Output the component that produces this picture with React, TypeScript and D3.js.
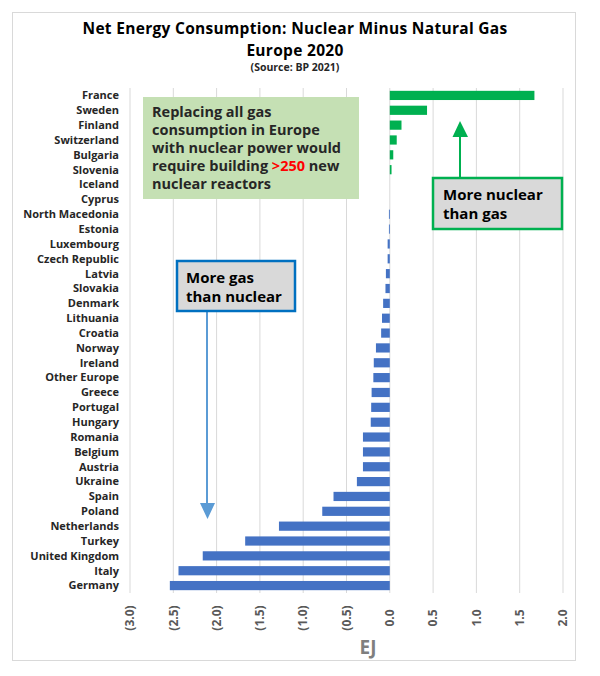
import React from "react";
import * as d3 from "d3";

const countries = [
  "France", "Sweden", "Finland", "Switzerland", "Bulgaria", "Slovenia", "Iceland", "Cyprus",
  "North Macedonia", "Estonia", "Luxembourg", "Czech Republic", "Latvia", "Slovakia", "Denmark",
  "Lithuania", "Croatia", "Norway", "Ireland", "Other Europe", "Greece", "Portugal", "Hungary",
  "Romania", "Belgium", "Austria", "Ukraine", "Spain", "Poland", "Netherlands", "Turkey",
  "United Kingdom", "Italy", "Germany",
];
const values = [
  1.67, 0.43, 0.135, 0.08, 0.04, 0.02, 0.0, 0.0,
  -0.01, -0.01, -0.025, -0.025, -0.045, -0.05, -0.077,
  -0.09, -0.1, -0.16, -0.185, -0.19, -0.21, -0.215, -0.22,
  -0.31, -0.31, -0.31, -0.38, -0.65, -0.78, -1.28, -1.67,
  -2.16, -2.44, -2.54,
];
const tickValues = [-3, -2.5, -2, -1.5, -1, -0.5, 0, 0.5, 1, 1.5, 2];
const titleLines = ["Net Energy Consumption: Nuclear Minus Natural Gas", "Europe 2020"];
const sourceText = "(Source: BP 2021)";
const noteLines = [
  "Replacing all gas",
  "consumption in Europe",
  "with nuclear power would",
  "require building ",
  "nuclear reactors",
];
const axisTitle = "EJ";

const FONT = "'Open Sans', Lato, sans-serif";
const GREEN = "#00B050";
const BLUE = "#4472C4";

function fmt(v: number) {
  const s = Math.abs(v).toFixed(1);
  return v < 0 ? `(${s})` : s;
}

export default function App() {
  if (typeof document !== "undefined") document.body.style.margin = "0";
  const x = d3.scaleLinear().domain([-3, 2]).range([130, 563]);
  const y = d3.scaleBand<string>().domain(countries).range([88, 593]).paddingInner(0.38).paddingOuter(0.19);
  const bw = y.bandwidth();

  return (
    <svg width={600} height={676} style={{ display: "block", fontFamily: FONT }}>
      <rect x={0} y={0} width={600} height={676} fill="#fff" />
      <rect x={12.5} y={12.5} width={563} height={648} fill="#fff" stroke="#d9d9d9" strokeWidth={1} />
      {/* title */}
      <text x={295} y={34} textAnchor="middle" fontSize={15.5} letterSpacing={0.3} fontWeight="bold" fill="#000">{titleLines[0]}</text>
      <text x={295} y={55.5} textAnchor="middle" fontSize={15.5} letterSpacing={0.3} fontWeight="bold" fill="#000">{titleLines[1]}</text>
      <text x={295} y={71} textAnchor="middle" fontSize={10.5} fontWeight="bold" fill="#262626">{sourceText}</text>

      {/* gridlines */}
      {tickValues.map((t) => (
        <line key={"g" + t} x1={x(t)} x2={x(t)} y1={88} y2={593} stroke="#d9d9d9" strokeWidth={1} />
      ))}

      {/* bars */}
      {countries.map((c, i) => {
        const v = values[i];
        const x0 = x(Math.min(0, v));
        const w = Math.abs(x(v) - x(0));
        return (
          <rect key={c} x={x0} y={y(c)!} width={Math.max(w, v === 0 ? 0 : 0.6)} height={bw}
            fill={v >= 0 ? GREEN : BLUE} />
        );
      })}

      {/* category labels */}
      {countries.map((c) => (
        <text key={"l" + c} x={119} y={y(c)! + bw / 2} dy="0.35em" textAnchor="end" fontSize={11}
          fontWeight="bold" fill="#262626">{c}</text>
      ))}

      {/* tick labels */}
      {tickValues.map((t) => (
        <text key={"t" + t} transform={`translate(${x(t)},618) rotate(-90)`} textAnchor="middle" dy="0.35em"
          fontSize={12} fontWeight="bold" fill="#595959">{fmt(t)}</text>
      ))}
      <text x={368} y={654} textAnchor="middle" fontSize={19} fontWeight="bold" fill="#7f7f7f">{axisTitle}</text>

      {/* green note */}
      <rect x={143} y={97} width={216} height={102} fill="#C5E0B4" />
      {noteLines.map((l, i) => (
        <text key={"n" + i} x={152} y={116.7 + i * 18.1} fontSize={14.5} fontWeight="bold" fill="#262626">
          {l}
          {i === 3 ? (<><tspan fill="#FF0000">&gt;250</tspan><tspan> new</tspan></>) : null}
        </text>
      ))}

      {/* blue annotation */}
      <line x1={207} x2={207} y1={312} y2={505} stroke="#5B9BD5" strokeWidth={2} />
      <path d="M200,503 L215,503 L207.5,519 Z" fill="#5B9BD5" />
      <rect x={177} y={261} width={118} height={50} fill="#D9D9D9" stroke="#0070C0" strokeWidth={2.5} />
      <text x={186} y={283} fontSize={15} fontWeight="bold" fill="#000">More gas</text>
      <text x={186} y={302} fontSize={15} fontWeight="bold" fill="#000">than nuclear</text>

      {/* green annotation */}
      <line x1={460} x2={460} y1={177} y2={135} stroke={GREEN} strokeWidth={2} />
      <path d="M452.5,137 L468,137 L460,121 Z" fill={GREEN} />
      <rect x={433} y={178} width={129} height={51} fill="#D9D9D9" stroke={GREEN} strokeWidth={2.5} />
      <text x={443} y={200} fontSize={15} fontWeight="bold" fill="#000">More nuclear</text>
      <text x={443} y={219} fontSize={15} fontWeight="bold" fill="#000">than gas</text>
    </svg>
  );
}
